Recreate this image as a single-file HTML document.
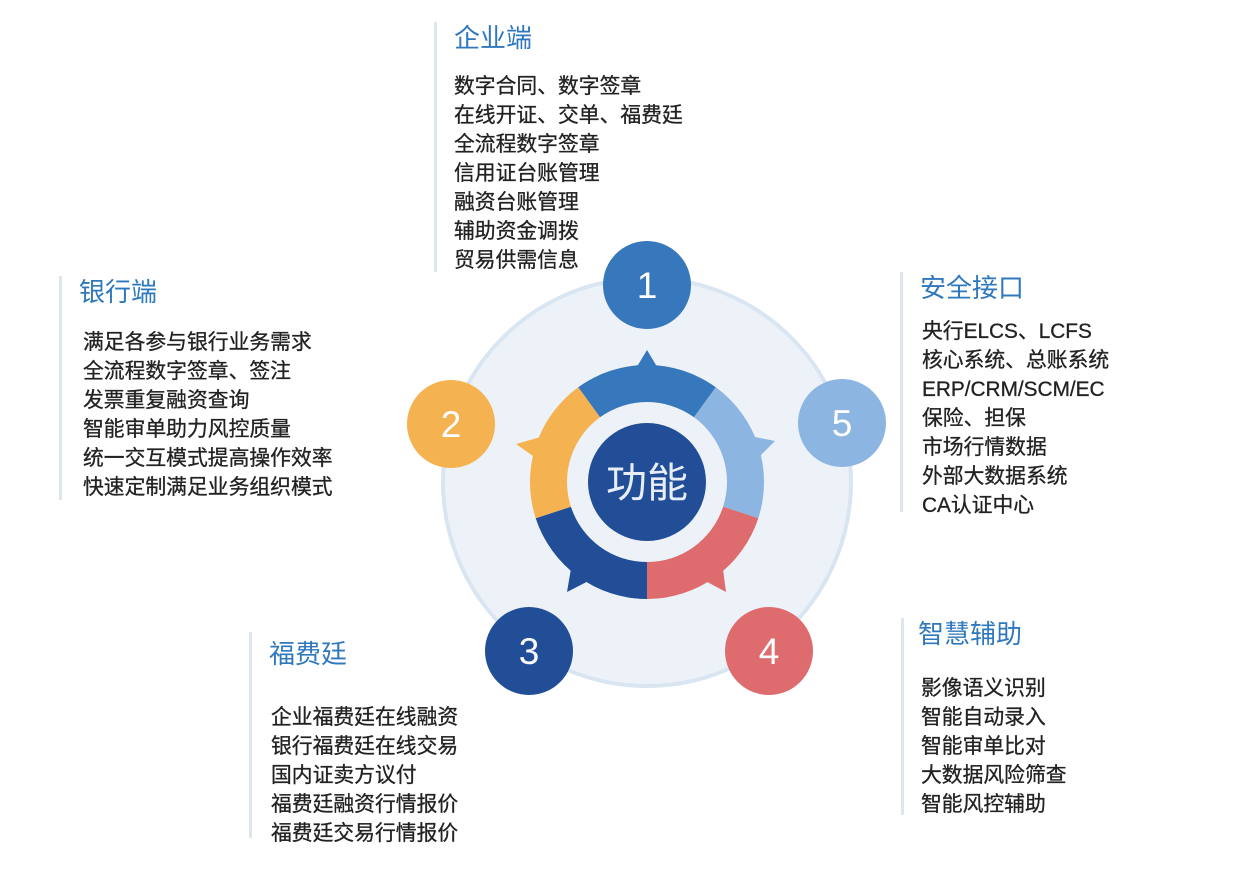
<!DOCTYPE html>
<html><head><meta charset="utf-8"><style>
body{margin:0;width:1241px;height:878px;background:#fff;position:relative;overflow:hidden;font-family:"Liberation Sans","Noto Sans CJK SC",sans-serif}
.b{position:absolute;border-left:3px solid #dde6ef;padding-left:17px}
.h{color:#2f78bd;font-size:26px;line-height:32px;height:32px}
.i{color:#222;font-size:20.8px;line-height:29px;-webkit-text-stroke:0.3px #222}
svg{position:absolute;left:0;top:0}
</style></head><body>
<svg width="1241" height="878">
<circle cx="647" cy="482" r="204" fill="#edf2f9" stroke="#d9e5f0" stroke-width="4"/>
<path d="M578.2,387.3 A117,117 0 0 1 715.8,387.3 L694,417.3 A80,80 0 0 0 600,417.3Z" fill="#3777bb"/>
<path d="M715.8,387.3 A117,117 0 0 1 758.3,518.2 L723.1,506.7 A80,80 0 0 0 694,417.3Z" fill="#8cb5e1"/>
<path d="M758.3,518.2 A117,117 0 0 1 647,599 L647,562 A80,80 0 0 0 723.1,506.7Z" fill="#de6b6e"/>
<path d="M647,599 A117,117 0 0 1 535.7,518.2 L570.9,506.7 A80,80 0 0 0 647,562Z" fill="#214e97"/>
<path d="M535.7,518.2 A117,117 0 0 1 578.2,387.3 L600,417.3 A80,80 0 0 0 570.9,506.7Z" fill="#f5b250"/>
<polygon points="647,350 635,370 659,370" fill="#3777bb"/>
<polygon points="775,441 749.8,436 757.2,458.8" fill="#8cb5e1"/>
<polygon points="726,592 703.1,579.7 722.5,565.5" fill="#de6b6e"/>
<polygon points="567,592 571.5,565.5 590.9,579.7" fill="#214e97"/>
<polygon points="516,444 544.2,436 536.8,458.8" fill="#f5b250"/>
<circle cx="647" cy="482" r="59" fill="#214e97"/>
<text x="647" y="497" text-anchor="middle" font-size="41" fill="#e8eef7" font-family="Liberation Sans,Noto Sans CJK SC,sans-serif">功能</text>
<circle cx="647" cy="285" r="44" fill="#3777bb"/>
<circle cx="451" cy="424" r="44" fill="#f5b250"/>
<circle cx="842" cy="423" r="44" fill="#8cb5e1"/>
<circle cx="529" cy="651" r="44" fill="#214e97"/>
<circle cx="769" cy="651" r="44" fill="#de6b6e"/>
<g font-size="37" fill="#fff" text-anchor="middle" font-family="Liberation Sans,sans-serif">
<text x="647" y="298">1</text><text x="451" y="437">2</text><text x="842" y="436">5</text><text x="529" y="664">3</text><text x="769" y="664">4</text>
</g>
</svg>
<div class="b" style="left:434px;top:22px;height:250px"><div class="h">企业端</div><div class="i" style="margin-top:18px">数字合同、数字签章<br>在线开证、交单、福费廷<br>全流程数字签章<br>信用证台账管理<br>融资台账管理<br>辅助资金调拨<br>贸易供需信息</div></div>
<div class="b" style="left:59px;top:276px;height:224px"><div class="h">银行端</div><div class="i" style="margin-top:20px;padding-left:4px">满足各参与银行业务需求<br>全流程数字签章、签注<br>发票重复融资查询<br>智能审单助力风控质量<br>统一交互模式提高操作效率<br>快速定制满足业务组织模式</div></div>
<div class="b" style="left:900px;top:272px;height:240px"><div class="h">安全接口</div><div class="i" style="margin-top:13px;padding-left:2px">央行ELCS、LCFS<br>核心系统、总账系统<br>ERP/CRM/SCM/EC<br>保险、担保<br>市场行情数据<br>外部大数据系统<br>CA认证中心</div></div>
<div class="b" style="left:249px;top:632px;height:206px"><div class="h" style="margin-top:6px">福费廷</div><div class="i" style="margin-top:33px;padding-left:2px">企业福费廷在线融资<br>银行福费廷在线交易<br>国内证卖方议付<br>福费廷融资行情报价<br>福费廷交易行情报价</div></div>
<div class="b" style="left:901px;top:618px;height:197px;padding-left:14px"><div class="h">智慧辅助</div><div class="i" style="margin-top:24px;padding-left:3px">影像语义识别<br>智能自动录入<br>智能审单比对<br>大数据风险筛查<br>智能风控辅助</div></div>
</body></html>
